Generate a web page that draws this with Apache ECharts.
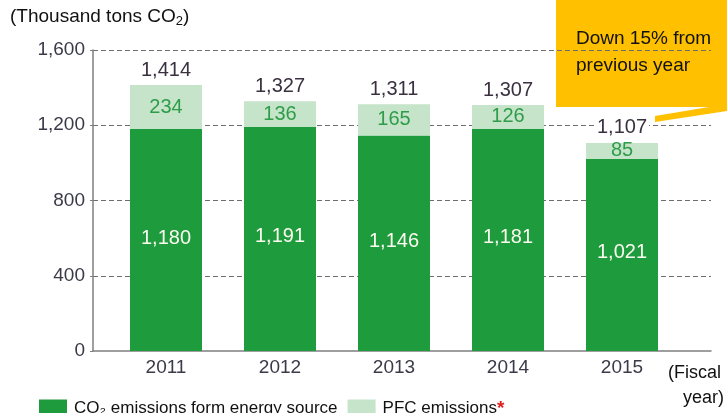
<!DOCTYPE html>
<html>
<head>
<meta charset="utf-8">
<script src="https://cdn.jsdelivr.net/npm/echarts@6/dist/echarts.min.js"></script>
<style>
  html, body { margin: 0; padding: 0; background: #fff; }
  #chart_div { width: 727px; height: 413px; }
</style>
</head>
<body>
<div id="chart_div"></div>
<script>
// fiscal years
const years = ["2011", "2012", "2013", "2014", "2015"];
// CO2 emissions from energy source (thousand tons)
const energyCO2 = [1180, 1191, 1146, 1181, 1021];
// PFC emissions (thousand tons CO2)
const pfc = [234, 136, 165, 126, 85];
// totals printed above the bars
const totals = [1414, 1327, 1311, 1307, 1107];
const yTicks = { min: 0, max: 1600, interval: 400 };

const numFont = '"Liberation Sans Narrow", "Liberation Sans", sans-serif';
const txtFont = '"Liberation Sans", "Noto Sans", sans-serif';
const fmt = v => String(v).replace(/\B(?=(\d{3})+(?!\d))/g, ",");

const myChart = echarts.init(document.getElementById("chart_div"));

const option = {
  animation: false,
  textStyle: { fontFamily: txtFont },
  grid: [
    // axis frame (y axis line, dashed grid lines, x axis line)
    { left: 93, right: 16, top: 50, bottom: 62 },
    // bars
    { left: 109, right: 48, top: 50, bottom: 62 }
  ],
  xAxis: [
    {
      gridIndex: 0,
      type: "value",
      min: 0,
      max: 1,
      axisLine: { show: true, lineStyle: { color: "#7f7f7f", width: 1.5 } },
      axisTick: { show: false },
      axisLabel: { show: false },
      splitLine: { show: false }
    },
    {
      gridIndex: 1,
      type: "category",
      data: years,
      axisLine: { show: false },
      axisTick: { show: false },
      axisLabel: {
        color: "#3a3a48",
        fontFamily: numFont,
        fontSize: 19,
        margin: 7
      }
    }
  ],
  yAxis: [
    {
      gridIndex: 0,
      type: "value",
      min: yTicks.min,
      max: yTicks.max,
      interval: yTicks.interval,
      axisLine: { show: true, lineStyle: { color: "#7f7f7f", width: 1.5 } },
      axisTick: { show: true, length: 3, lineStyle: { color: "#7f7f7f" } },
      axisLabel: {
        color: "#3a3a48",
        fontFamily: numFont,
        fontSize: 19,
        margin: 8,
        formatter: v => fmt(v)
      },
      splitLine: {
        show: true,
        showMinLine: false,
        lineStyle: { color: "#6e6e6e", type: [5, 3], width: 1 }
      }
    },
    {
      gridIndex: 1,
      type: "value",
      min: yTicks.min,
      max: yTicks.max,
      interval: yTicks.interval,
      show: false,
      splitLine: { show: false }
    }
  ],
  legend: {
    left: 34,
    top: 394,
    itemWidth: 28,
    itemHeight: 18,
    itemGap: 10,
    icon: "rect",
    data: ["energy", "pfc"],
    formatter: name =>
      name === "energy"
        ? "CO\u2082 emissions form energy source"
        : "PFC emissions{star|*}",
    textStyle: {
      color: "#111",
      fontSize: 17,
      fontFamily: txtFont,
      padding: [0, 0, 0, 2],
      rich: { star: { color: "#e02020", fontSize: 19, fontWeight: "bold" } }
    }
  },
  series: [
    {
      name: "energy",
      type: "bar",
      xAxisIndex: 1,
      yAxisIndex: 1,
      stack: "total",
      barWidth: 72,
      itemStyle: { color: "#1e9b3c" },
      label: {
        show: true,
        position: "inside",
        offset: [0, -2],
        color: "#fbfbf0",
        fontFamily: numFont,
        fontSize: 20,
        formatter: p => fmt(p.value)
      },
      data: energyCO2
    },
    {
      name: "pfc",
      type: "bar",
      xAxisIndex: 1,
      yAxisIndex: 1,
      stack: "total",
      barWidth: 72,
      itemStyle: { color: "#c5e4c9" },
      label: {
        show: true,
        position: "inside",
        color: "#2f9c4a",
        fontFamily: numFont,
        fontSize: 20,
        formatter: p => fmt(p.value)
      },
      data: pfc
    },
    {
      name: "total",
      type: "line",
      xAxisIndex: 1,
      yAxisIndex: 1,
      symbol: "circle",
      symbolSize: 0,
      silent: true,
      lineStyle: { opacity: 0 },
      label: {
        show: true,
        position: "top",
        distance: 5,
        color: "#3a3040",
        fontFamily: numFont,
        fontSize: 20,
        backgroundColor: "#fff",
        padding: [0, 2],
        formatter: p => fmt(p.value)
      },
      data: totals
    }
  ],
  graphic: [
    {
      type: "text",
      left: 10,
      top: 7,
      style: {
        text: "(Thousand tons CO{sub|2})",
        fill: "#111",
        font: "19px " + txtFont,
        rich: { sub: { fontSize: 13, verticalAlign: "bottom", padding: [10, 0, 0, 0] } }
      }
    },
    {
      type: "text",
      left: 668,
      top: 361,
      style: {
        text: "(Fiscal\n   year)",
        fill: "#111",
        font: "18px " + txtFont,
        lineHeight: 25
      }
    },
    {
      type: "polygon",
      shape: { points: [[655, 116], [655, 122], [727, 111], [727, 104]] },
      style: { fill: "#ffc000" }
    },
    {
      type: "rect",
      shape: { x: 556, y: 0, width: 171, height: 107 },
      style: { fill: "#ffc000" }
    },
    {
      type: "text",
      left: 576,
      top: 25,
      style: {
        text: "Down 15% from\nprevious year",
        fill: "#111",
        font: "19px " + txtFont,
        lineHeight: 27
      }
    }
  ]
};
myChart.setOption(option);
</script>
</body>
</html>
